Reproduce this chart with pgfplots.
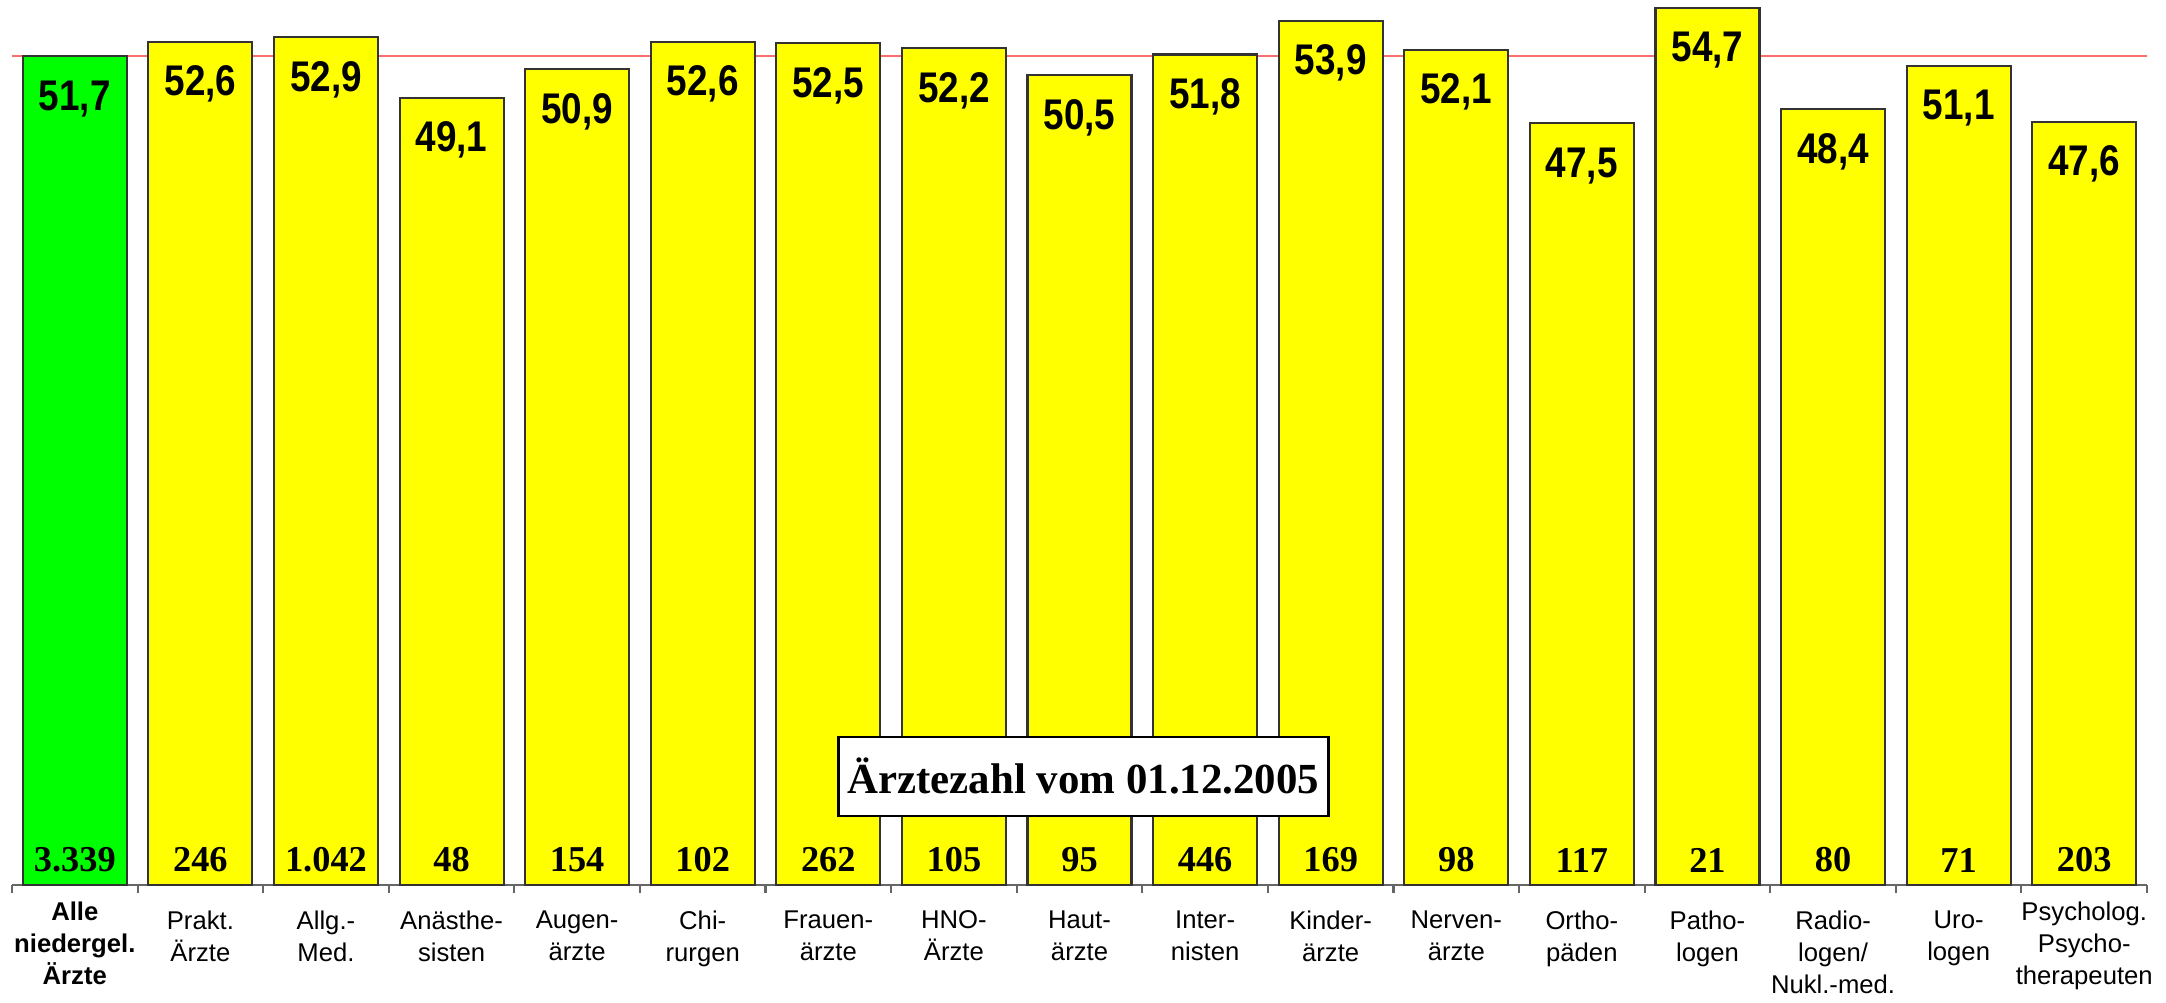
\documentclass[border=0pt]{standalone}
\usepackage{fontspec}
\setmainfont{Liberation Serif}
\newfontfamily\arialfont{Liberation Sans}
\usepackage{graphicx}
\usepackage{pgfplots}
\pgfplotsset{compat=1.18}
\usepackage{pgfplotstable}
\definecolor{barY}{RGB}{255,255,0}
\definecolor{barG}{RGB}{0,255,0}
\definecolor{refred}{RGB}{250,110,110}

\pgfplotstableread{
x y lab
0 51.7 51,7
}\greendata

\pgfplotstableread{
x y lab
1 52.6 52,6
2 52.9 52,9
3 49.1 49,1
4 50.9 50,9
5 52.6 52,6
6 52.5 52,5
7 52.2 52,2
8 50.5 50,5
9 51.8 51,8
10 53.9 53,9
11 52.1 52,1
12 47.5 47,5
13 54.7 54,7
14 48.4 48,4
15 51.1 51,1
16 47.6 47,6
}\yellowdata

\pgfplotstableread{
x y cnt
0 0 3.339
1 0 246
2 0 1.042
3 0 48
4 0 154
5 0 102
6 0 262
7 0 105
8 0 95
9 0 446
10 0 169
11 0 98
12 0 117
13 0 21
14 0 80
15 0 71
16 0 203
}\countdata

\begin{document}
\begin{tikzpicture}
\useasboundingbox (0,0) rectangle (21.66,10.02);
\begin{axis}[
  at={(0.12cm,1.17cm)}, anchor=south west,
  width=21.35cm, height=8.85cm, scale only axis,
  xmin=-0.5, xmax=16.5, ymin=0, ymax=55.2,
  axis x line=bottom, axis y line=none,
  axis line style={-, draw=black!60, line width=0.6pt},
  xtick={0,...,16},
  xticklabels={
    {\bfseries Alle\\\bfseries niedergel.\\\bfseries Ärzte},
    {Prakt.\\Ärzte},
    {Allg.-\\Med.},
    {Anästhe-\\sisten},
    {Augen-\\ärzte},
    {Chi-\\rurgen},
    {Frauen-\\ärzte},
    {HNO-\\Ärzte},
    {Haut-\\ärzte},
    {Inter-\\nisten},
    {Kinder-\\ärzte},
    {Nerven-\\ärzte},
    {Ortho-\\päden},
    {Patho-\\logen},
    {Radio-\\logen/\\Nukl.-med.},
    {Uro-\\logen},
    {Psycholog.\\Psycho-\\therapeuten}},
  major tick length=0pt,
  xticklabel style={anchor=north, inner sep=0pt,
    yshift={((\ticknum==0)||(\ticknum==16)) ? -4.6 : -7.1},
    align=center,
    font=\arialfont\fontsize{7.3}{9.1}\selectfont},
  extra x ticks={-0.5,0.5,1.5,2.5,3.5,4.5,5.5,6.5,7.5,8.5,9.5,10.5,11.5,12.5,13.5,14.5,15.5,16.5},
  extra x tick labels={},
  extra x tick style={major tick length=0.8mm, tick align=outside,
    tick style={draw=black!60, line width=0.6pt}},
  clip=false,
]
\addplot[refred, line width=0.5pt, forget plot] coordinates {(-0.5,51.7) (16.5,51.7)};

\addplot[ybar, bar width=1.04cm, fill=barG, draw=black!80, line width=0.6pt,
  point meta=explicit symbolic,
  nodes near coords={\scalebox{0.86}[1]{\pgfplotspointmeta}},
  nodes near coords align={center},
  every node near coord/.append style={anchor=center, yshift=-4.25mm, text=black,
    font=\arialfont\bfseries\fontsize{12.2}{13}\selectfont}]
  table[x=x, y=y, meta=lab] {\greendata};

\addplot[ybar, bar width=1.04cm, fill=barY, draw=black!80, line width=0.6pt,
  point meta=explicit symbolic,
  nodes near coords={\scalebox{0.86}[1]{\pgfplotspointmeta}},
  nodes near coords align={center},
  every node near coord/.append style={anchor=center, yshift=-4.25mm, text=black,
    font=\arialfont\bfseries\fontsize{12.2}{13}\selectfont}]
  table[x=x, y=y, meta=lab] {\yellowdata};

\addplot[draw=none, mark=none,
  point meta=explicit symbolic,
  nodes near coords={\pgfplotspointmeta},
  nodes near coords align={center},
  every node near coord/.append style={anchor=center, yshift=2.5mm, text=black,
    font=\bfseries\fontsize{10.35}{11}\selectfont}]
  table[x=x, y=y, meta=cnt] {\countdata};

\node[draw=black, line width=0.8pt, fill=white, minimum width=4.9cm,
  minimum height=7.9mm, inner sep=0pt,
  font=\bfseries\fontsize{12.2}{13}\selectfont]
  at (axis cs:8.03,6.77) {Ärztezahl vom 01.12.2005};
\end{axis}
\end{tikzpicture}
\end{document}
